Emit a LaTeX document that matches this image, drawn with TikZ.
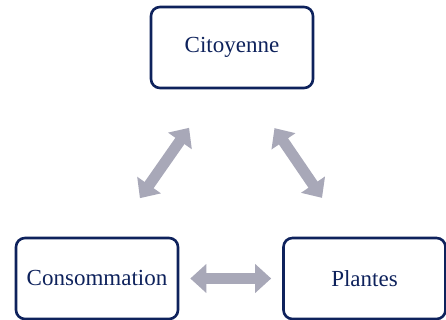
\documentclass[tikz,border=0pt]{standalone}
\usepackage{fontspec}
\setmainfont{Liberation Serif}
\usetikzlibrary{arrows.meta}
\definecolor{navy}{RGB}{14,34,92}
\definecolor{arrowgray}{RGB}{168,168,184}
\begin{document}
\begin{tikzpicture}[x=0.5pt,y=-0.5pt,font=\fontsize{11.5}{14}\selectfont,
  box/.style={draw=navy,line width=1.3pt,rounded corners=4.5pt,text=navy,
    minimum width=81pt,minimum height=40.5pt,inner sep=0pt},
  link/.style={draw=arrowgray,line width=5.5pt,
    {Triangle[length=8pt,width=14pt]}-{Triangle[length=8pt,width=14pt]}}]
\useasboundingbox (0,0) rectangle (446,320);

\node[box] (c) at (232,47.5) {Citoyenne};
\node[box] (m) at (97,278.5) {Consommation};
\node[box] (p) at (364.5,278.5) {Plantes};

\draw[link,shorten <=5.5pt,shorten >=5.5pt] (m.east) -- (p.west);
\draw[link,shorten <=23.5pt,shorten >=23.5pt] ([xshift=8pt]m.north) -- ([xshift=-8pt]c.south);
\draw[link,shorten <=23.5pt,shorten >=23.5pt] ([xshift=8pt]c.south) -- ([xshift=-8pt]p.north);
%\draw[link] (m) -- (c);

\end{tikzpicture}
\end{document}
